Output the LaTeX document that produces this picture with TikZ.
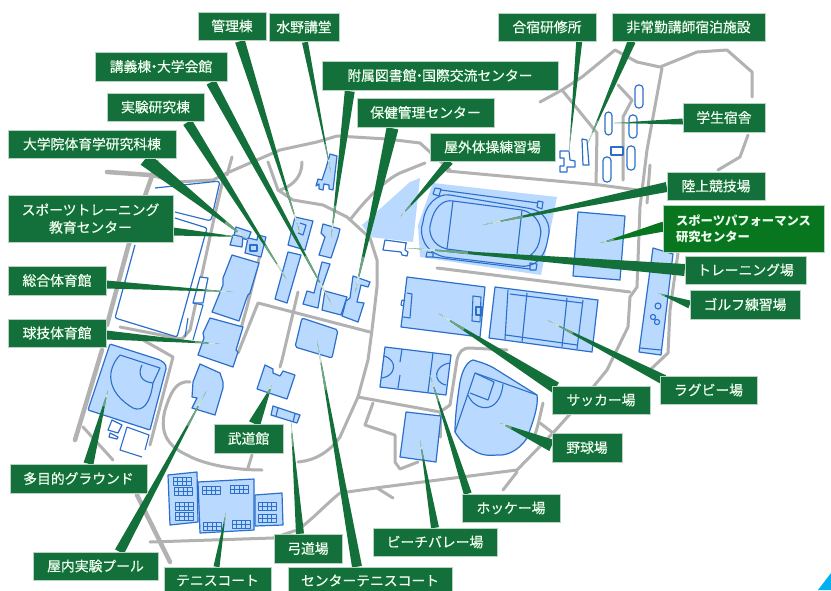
\documentclass[tikz,border=0pt]{standalone}
\usepackage{fontspec}
\setmainfont{Noto Sans CJK JP}
\newfontfamily\lblfont[RawFeature={embolden=0.5}]{Noto Sans CJK JP}
\usetikzlibrary{calc}
\definecolor{boxgreen}{HTML}{14703A}
\definecolor{brightgreen}{HTML}{08761F}
\definecolor{boxedge}{HTML}{B9D3C3}
\definecolor{roadgray}{HTML}{B2B2B2}
\definecolor{bldfill}{HTML}{B9D9FF}
\definecolor{bldline}{HTML}{2C6FCB}
\definecolor{tipa}{HTML}{6FA585}
\definecolor{tipb}{HTML}{D4E5DA}
\definecolor{cornerblue}{HTML}{00B0F0}
\pgfdeclarelayer{maplayer}
\pgfdeclarelayer{leadlayer}
\pgfsetlayers{maplayer,leadlayer,main}
\tikzset{
  labelbox/.style={fill=boxgreen,draw=boxedge,line width=0.5pt,text=white!94!green,inner sep=0pt,align=center,
    font=\lblfont\fontsize{13.8}{17.5}\selectfont},
  perfbox/.style={labelbox,fill=brightgreen,align=left,font=\fontsize{12.3}{16}\bfseries\selectfont},
  road/.style={draw=roadgray,line width=3pt,line join=round,line cap=round},
  thickroad/.style={road,line width=4.5pt},
  bld/.style={fill=bldfill,draw=bldline,line width=1.2pt,line join=round},
  wht/.style={fill=white,draw=bldline,line width=1.2pt,line join=round},
  bl/.style={draw=bldline,line width=1.1pt,line join=round},
  pale/.style={fill=bldfill,draw=none},
}
\newcommand{\lab}[7][labelbox]{%
  \pgfmathsetmacro\bcx{(#3+#5)/2}\pgfmathsetmacro\bcy{(#4+#6)/2}%
  \pgfmathsetmacro\bw{#5-#3}\pgfmathsetmacro\bh{#6-#4}%
  \node[#1,minimum width=\bw pt,minimum height=\bh pt] (#2) at (\bcx,\bcy) {#7};}
% \leader{node anchor}{dx}{dy}{tipx,tipy}{half width}
\newcommand{\leader}[6][boxgreen]{%
  \begin{pgfonlayer}{leadlayer}
  \coordinate (lb) at ($(#2)+(#3,#4)$);
  \coordinate (lt) at (#5);
  \fill[#1] ($(lb)!#6pt!90:(lt)$) -- (lt) -- ($(lb)!#6pt!-90:(lt)$) -- cycle;
  \coordinate (lm) at ($(lb)!0.78!(lt)$);
  \coordinate (ln) at ($(lb)!0.9!(lt)$);
  \fill[tipa] ($(lm)!0.22*#6pt!90:(lt)$) -- (lt) -- ($(lm)!0.22*#6pt!-90:(lt)$) -- cycle;
  \fill[tipb] ($(ln)!0.2*#6pt!90:(lt)$) -- ($(ln)!0.2*#6pt!-90:(lt)$) -- ($(lt)!0.3pt!-90:(ln)$) -- ($(lt)!0.3pt!90:(ln)$) -- cycle;
  \end{pgfonlayer}}
\newcommand{\court}[3][0]{%
  \begin{scope}[shift={(#2,#3)},rotate=#1]
  \draw[bl,line width=0.8pt,fill=bldfill] (0,0) rectangle (18,8);
  \draw[bl,line width=0.5pt] (4.5,0)--(4.5,8) (9,0)--(9,8) (13.5,0)--(13.5,8) (0,4)--(18,4);
  \end{scope}}
\begin{document}
\begin{tikzpicture}[x=1pt,y=-1pt]
\useasboundingbox (0,0) rectangle (831,590);
\begin{pgfonlayer}{maplayer}
\fill[white] (0,0) rectangle (831,590);
\fill[cornerblue] (831,573) -- (818,590) -- (831,590) -- cycle;
% roads
\draw[thickroad] (107,172) -- (150,175);
\draw[road] (150,175) -- (177,182) -- (213,180) -- (227,173) -- (280,150) -- (317,142) -- (337,136) -- (387,139) -- (420,143) -- (450,170) (447,171) -- (600,185) -- (637,190);
\draw[thickroad] (157,162) -- (147,190) -- (128,247) -- (107,325);
\draw[road] (223,180) -- (213,223) -- (190,330) -- (182,339) -- (120,327);
\draw[road] (232,157) -- (227,175);
\draw[road] (263,243) -- (247,307) -- (233,357);
\draw[road] (238,353) -- (258,303) -- (370,332);
\draw[road] (298,292) -- (282,360) -- (280,367);
\draw[road] (252,455) -- (248,468);
\draw[road] (268,162) -- (278,190) -- (293,200) -- (323,205) -- (347,217) -- (370,238) -- (377,260) -- (377,287) -- (372,330) -- (368,360) -- (358,397) -- (340,437) .. controls (333,447) and (320,460) .. (298,462);
\draw[road] (302,162) .. controls (302,175) and (295,185) .. (280,190);
\draw[road] (350,220) .. controls (365,200) and (385,180) .. (400,173) -- (425,163);
\draw[road] (190,382) .. controls (175,380) and (170,395) .. (165,410) .. controls (160,430) and (165,445) .. (187,455) .. controls (205,465) and (235,470) .. (262,470);
\draw[road] (143,340) -- (173,357) -- (150,445);
\draw[thickroad] (102,350) -- (75,440);
\draw[road] (83,427) -- (113,460);
\draw[thickroad] (137,495) -- (170,562);
\draw[road] (150,542) -- (273,538) -- (297,530) .. controls (310,522) and (325,505) .. (340,493) -- (383,487) -- (517,470) -- (553,433) -- (540,423) (553,433) -- (580,403) -- (607,370) -- (628,327) -- (630,297) -- (637,287) -- (640,207) -- (647,150) -- (662,68);
\draw[road] (517,472) -- (503,490);
\draw[road] (377,488) -- (393,498);
\draw[road] (358,397) -- (440,412) -- (450,405) -- (457,360) .. controls (459,352) and (462,348) .. (470,348) -- (507,350);
\draw[road] (373,403) -- (365,425) -- (395,435) -- (395,462) -- (400,469) -- (418,462);
\draw[road] (440,412) -- (440,437);
\draw[road] (543,403) .. controls (540,415) and (538,428) .. (533,440);
\draw[road] (437,268) -- (630,292);
\draw[road] (540,102) -- (562,90) -- (582,77) -- (615,50) -- (637,62) -- (660,67) -- (697,52) -- (727,50) -- (752,72) -- (752,97);
\draw[road] (748,135) -- (740,157) -- (718,170);
\draw[road] (562,90) -- (597,133) -- (596,185);
\draw[road] (618,85) -- (632,100) -- (623,117) -- (623,180);
\draw[road] (650,165) -- (647,203);
\draw[road] (678,253) -- (670,310) -- (668,353) -- (650,370);
% pale areas
\fill[pale] (420,178) -- (410,182) -- (362,225) -- (370,237) -- (413,242) -- cycle;
\fill[pale] (433,183) -- (557,197) -- (541,275) -- (420,257) -- (418,225) -- cycle;
% track
\draw[bl] (450,195) -- (527,208) .. controls (545,210) and (552,225) .. (548,238) .. controls (545,258) and (535,268) .. (520,266) -- (445,257) .. controls (425,253) and (418,235) .. (423,222) .. controls (425,205) and (437,193) .. (450,195) -- cycle;
\draw[bl] (453,201) -- (522,210) .. controls (538,214) and (543,228) .. (540,238) .. controls (538,252) and (528,260) .. (518,258) -- (447,249) .. controls (433,246) and (427,233) .. (431,222) .. controls (434,208) and (443,199) .. (453,201) -- cycle;
\draw[bl] (453,201) -- (447,249) (522,210) -- (517,254);
\draw[bl] (441,190) -- (538,203) (433,257) -- (530,269);
\draw[bl] (435,188) -- (441,189) -- (439,196) -- (433,194) -- cycle;
\draw[bl] (538,201) -- (543,202) -- (542,209) -- (537,207) -- cycle;
\draw[bl] (427,252) -- (433,253) -- (433,257) -- (426,257) -- cycle;
\draw[bl] (530,263) -- (537,264) -- (536,270) -- (530,270) -- cycle;
% ground (white)
\draw[wht,rounded corners=3pt] (155,188) -- (220,181) -- (211,221) -- (175,212);
\draw[wht,rounded corners=2pt] (175,218) -- (207,228) -- (177,337) -- (115,318) -- (135,245);
\draw[wht] (200,277) -- (208,278) -- (203,303) -- (193,303) -- cycle;
\draw[bl] (193,303) -- (203,305) -- (193,340) (188,318) -- (185,337);
% buildings west
\draw[bld] (232,255) -- (259,263) -- (250,293) -- (248,295) -- (246,300) -- (245,303) -- (239,321) -- (212,312) -- (223,285) -- (223,278) -- cycle;
\draw[bld] (210,318) -- (243,327) -- (236,350) -- (238,352) -- (233,367) -- (198,355) -- (204,338) -- (203,333) -- cycle;
\draw[bld] (236,227) -- (251,232) -- (248,240) -- (234,236) -- cycle;
\draw[bld] (233,235) -- (243,237) -- (242,247) -- (230,245) -- cycle;
\draw[bld] (248,238) -- (257,240) -- (258,235) -- (266,237) -- (261,257) -- (245,253) -- cycle;
\draw[bl] (250,245) rectangle (257,251);
% central buildings
\draw[bld] (288,245) -- (295,217) -- (313,221) -- (305,250) -- cycle;
\draw[bl] (300,223) -- (306,225) -- (303,235) -- (298,233);
\draw[bld] (288,252) -- (301,255) -- (287,303) -- (275,299) -- cycle;
\draw[bld] (323,224) -- (340,229) -- (338,237) -- (331,258) -- (319,255) -- (325,237) -- (321,233) -- cycle;
\draw[bld] (330,154) -- (337,156) -- (333,190) -- (329,189) -- (329,185) -- (324,184) -- (323,190) -- (319,189) -- (319,184) -- (316,186) -- (318,179) -- (322,180) -- (326,168) -- cycle;
\draw[bld] (322,262) -- (330,264) -- (321,290) -- (318,308) -- (303,304) -- (307,291) -- (314,293) -- cycle;
\draw[bld] (325,291) -- (347,297) -- (341,315) -- (322,310) -- cycle;
\draw[bld] (353,276) -- (370,282) -- (368,287) -- (361,285) -- (357,302) -- (364,303) -- (358,322) -- (342,316) -- (346,301) -- (350,298) -- cycle;
\draw[bld,rounded corners=2pt] (302,318) -- (338,330) -- (332,358) -- (295,347) -- cycle;
% ground SW
\draw[bld,rounded corners=1pt] (110,344) -- (160,360) [rounded corners=4pt] -- (167,365) [rounded corners=1pt] -- (150,430) -- (88,410) -- cycle;
\draw[bl] (120,355) -- (160,368) -- (153,383);
\draw[bl] (120,355) .. controls (106,370) and (106,392) .. (133,408) .. controls (142,412) and (150,405) .. (153,383);
\draw[bl] (142,365) .. controls (137,375) and (142,382) .. (153,383);
\draw[wht] (112,420) -- (122,425) -- (118,433) -- (108,430) -- cycle;
\draw[wht] (110,433) -- (118,437) -- (117,439) -- (109,437) -- cycle;
\draw[bl] (145,450) -- (149,435) -- (127,427) -- (120,450) -- (142,457);
\draw[bld] (200,364) -- (220,373) -- (223,382) -- (223,388) -- (215,415) -- (192,408) -- (197,398) -- (192,397) -- (193,382) -- cycle;
\draw[bld] (265,365) -- (273,369) -- (273,373) -- (280,376) -- (283,371) -- (295,375) -- (287,399) -- (257,389) -- cycle;
\draw[bld] (273,406) -- (300,415) -- (297,423) -- (271,415) -- cycle;
\draw[bl] (278,408) -- (276,416) (295,414) -- (293,422);
% tennis
\draw[bld] (168,475) -- (197,472) -- (198,522) -- (170,525) -- cycle;
\draw[bld] (255,495) -- (282,493) -- (283,525) -- (255,526) -- cycle;
\draw[bld] (198,482) -- (254,479) -- (254,530) -- (200,533) -- cycle;
\court{173}{477}\court{174}{487}\court{175}{502}\court{175}{512}
\court{202}{486}\court{230}{485}\court{203}{522}\court{232}{520}
\court{258}{502}\court{258}{514}
% soccer
\draw[bld] (407,277) -- (485,287) -- (480,337) -- (401,327) -- cycle;
\draw[bl] (407,293) -- (412,294) -- (410,318) -- (403,317) (405,301) -- (402,300) -- (401,305) -- (404,306);
\draw[bl] (473,296) -- (481,297) -- (480,322) -- (472,321) -- cycle;
\draw[bl] (476,307) rectangle (482,315);
% rugby
\draw[bld] (495,287) -- (598,300) -- (592,352) -- (489,338) -- cycle;
\draw[bl] (508,290) -- (505,339) (527,293) -- (522,342) (567,298) -- (562,347) (583,300) -- (577,349);
\draw[bl] (510,294) -- (582,303) (506,335) -- (577,345);
% performance
\draw[bld] (578,212) -- (625,216) -- (620,280) -- (573,276) -- cycle;
% golf
\draw[bld] (653,248) -- (673,254) -- (661,355) -- (639,352) -- cycle;
\draw[bl] (640,348) -- (661,350);
\draw[bl] (658,306) circle (3);
\draw[bl] (653,317) circle (2.6) (657,322) circle (2.6);
% hockey
\draw[bld] (385,347) -- (451,355) -- (446,395) -- (380,387) -- cycle;
\draw[bl] (402,349) -- (400,362) (400,375) -- (398,388) (433,353) -- (428,392);
\draw[bl] (384,356) .. controls (398,360) and (396,376) .. (382,378);
\draw[bl] (450,363) .. controls (434,365) and (432,382) .. (446,385);
% beach
\draw[bld] (406,412) -- (441,416) -- (436,462) -- (400,457) -- cycle;
% baseball
\draw[bld] (455,432) .. controls (455,415) and (458,395) .. (460,382) .. controls (462,372) and (466,362) .. (473,360) .. controls (480,362) and (490,365) .. (497,370) -- (537,395) .. controls (538,402) and (537,412) .. (527,438) .. controls (518,452) and (505,456) .. (497,455) .. controls (488,456) and (480,455) .. (473,450) .. controls (465,446) and (460,440) .. (455,432) -- cycle;
\draw[bl] (455,432) -- (475,373) -- (537,395);
\draw[bl] (475,373) -- (494,382) -- (488,400) -- (470,393);
\draw[bl] (468,395) .. controls (475,412) and (500,415) .. (503,384);
\draw[wht] (407,243) -- (385,240) -- (383,250) -- (401,252) -- (402,255) -- (407,256) -- (408,252) -- (405,250) -- (406,243);
% dorms
\draw[wht,rounded corners=3.5pt] (635,85) rectangle (643,108);
\draw[wht,rounded corners=3.5pt] (605,112) rectangle (612,135);
\draw[wht,rounded corners=3.5pt] (629,115) rectangle (637,138);
\draw[wht,rounded corners=3.5pt] (603,157) rectangle (611,182);
\draw[wht,rounded corners=3.5pt] (627,146) rectangle (635,170);
\draw[wht] (611,147) rectangle (623,155);
\draw[wht] (582,139) -- (587,140) -- (589,165) -- (583,165) -- cycle;
\draw[wht] (560,151) -- (569,151) -- (570,160) -- (575,161) -- (575,167) -- (567,167) -- (567,172) -- (560,172) -- (560,166) -- (564,166) -- (564,158) -- (560,158) -- cycle;
\end{pgfonlayer}
% labels
\lab{kanri}{198}{12}{266}{40}{管理棟}
\lab{mizuno}{269}{13}{339}{41}{水野講堂}
\lab{gassyuku}{498}{13}{596}{41}{合宿研修所}
\lab{hijokin}{612}{13}{765}{41}{非常勤講師宿泊施設}
\lab{kogi}{95}{52}{227}{81}{講義棟\kern-4pt・\kern-4pt大学会館}
\lab{fuzoku}{322}{61}{558}{90}{附属図書館\kern-4pt・\kern-4pt国際交流センター}
\lab{jikken}{107}{93}{204}{121}{実験研究棟}
\lab{hoken}{357}{98}{494}{127}{保健管理センター}
\lab{okugai}{430}{133}{555}{161}{屋外体操練習場}
\lab{daigakuin}{8}{130}{176}{158}{大学院体育学研究科棟}
\lab{sptr}{8}{195}{173}{242}{スポーツトレーニング\\教育センター}
\lab{sogo}{8}{266}{106}{295}{総合体育館}
\lab{kyugi}{8}{319}{106}{347}{球技体育館}
\lab{gakusei}{683}{103}{765}{132}{学生宿舎}
\lab{rikujo}{667}{172}{765}{200}{陸上競技場}
\lab[perfbox]{perf}{663}{205}{824}{252}{スポーツパフォーマンス\\研究センター}
\lab{training}{685}{256}{806}{284}{トレーニング場}
\lab{golf}{690}{290}{800}{319}{ゴルフ練習場}
\lab{rugby}{660}{376}{757}{404}{ラグビー場}
\lab{soccer}{552}{386}{650}{414}{サッカー場}
\lab{yakyu}{552}{433}{622}{462}{野球場}
\lab{hockey}{462}{494}{560}{522}{ホッケー場}
\lab{beach}{373}{528}{497}{556}{ビーチバレー場}
\lab{budo}{214}{424}{283}{453}{武道館}
\lab{tamokuteki}{10}{464}{147}{493}{多目的グラウンド}
\lab{pool}{33}{552}{158}{580}{屋内実験プール}
\lab{kyudo}{274}{534}{342}{563}{弓道場}
\lab{tennis}{164}{567}{271}{594}{テニスコート}
\lab{ctennis}{288}{567}{452}{594}{センターテニスコート}
% leaders
\leader{kanri.south}{8}{1}{300,233}{5}
\leader{mizuno.south}{1}{1}{331,173}{3}
\leader{fuzoku.south west}{28}{1}{331,238}{5}
\leader{hoken.south}{-33}{1}{355,293}{6}
\leader{kogi.south}{50}{1}{332,305}{5}
\leader{jikken.south}{32}{1}{287,280}{5}
\leader{daigakuin.south}{53}{1}{248,240}{7}
\leader{sptr.east}{0}{13}{240,237}{4}
\leader{sogo.east}{0}{4}{233,292}{4}
\leader{kyugi.east}{0}{2}{220,344}{4.5}
\leader{okugai.south west}{20}{0}{400,217}{4}
\leader{rikujo.west}{0}{1}{482,225}{5}
\leader[brightgreen]{perf.west}{1}{-2}{600,243}{5}
\leader{training.west}{0}{0}{407,248}{6}
\leader{golf.west}{0}{0}{658,293}{4}
\leader{gakusei.west}{0}{4}{614,123}{3}
\leader{gassyuku.south east}{-17}{0}{569,152}{3}
\leader{hijokin.south west}{20}{0}{588,143}{4}
\leader{soccer.north west}{4}{2}{438,313}{6}
\leader{rugby.north west}{4}{4}{547,320}{5}
\leader{yakyu.west}{0}{-2}{500,423}{6}
\leader{hockey.north west}{6}{0}{430,375}{4}
\leader{beach.north}{0}{0}{420,440}{4}
\leader{budo.north}{6}{0}{272,385}{6}
\leader{tamokuteki.north}{10}{0}{108,390}{5}
\leader{pool.north}{24}{0}{207,390}{5}
\leader{kyudo.north}{-8}{0}{291,422}{4}
\leader{tennis.north}{-1}{0}{226,512}{3}
\leader{ctennis.north}{-13}{0}{317,340}{5}
\end{tikzpicture}
\end{document}
